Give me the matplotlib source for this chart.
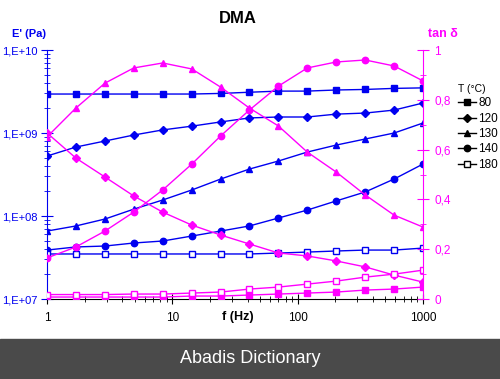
import math
import matplotlib
matplotlib.use('Agg')
import matplotlib.pyplot as plt
from matplotlib.ticker import FixedLocator, FuncFormatter, LogLocator, NullFormatter
from matplotlib.lines import Line2D
from matplotlib.patches import Rectangle

plt.rcParams['font.family'] = ['Liberation Sans', 'DejaVu Sans']

# frequency (Hz)
freq = [1, 1.70, 2.90, 4.92, 8.38, 14.3, 24.3, 41.2, 70.2, 119.4, 203, 346, 588, 1000]

temps = ['80', '120', '130', '140', '180']
markers = ['s', 'D', '^', 'o', 's']
filled = [True, True, True, True, False]

# storage modulus E' (Pa)
e_80 = [2.95e9, 2.95e9, 2.95e9, 2.95e9, 2.95e9, 2.95e9, 3.0e9, 3.1e9, 3.2e9, 3.2e9, 3.3e9, 3.35e9, 3.45e9, 3.5e9]
e_120 = [5.28e8, 6.78e8, 8.01e8, 9.46e8, 1.09e9, 1.21e9, 1.36e9, 1.52e9, 1.56e9, 1.56e9, 1.69e9, 1.74e9, 1.89e9, 2.30e9]
e_130 = [6.59e7, 7.59e7, 9.2e7, 1.21e8, 1.56e8, 2.06e8, 2.79e8, 3.68e8, 4.60e8, 5.90e8, 7.16e8, 8.47e8, 1.0e9, 1.32e9]
e_140 = [3.89e7, 4.24e7, 4.35e7, 4.73e7, 5.0e7, 5.74e7, 6.59e7, 7.59e7, 9.46e7, 1.18e8, 1.52e8, 1.95e8, 2.79e8, 4.23e8]
e_180 = [3.49e7, 3.49e7, 3.49e7, 3.49e7, 3.49e7, 3.49e7, 3.49e7, 3.49e7, 3.58e7, 3.68e7, 3.79e7, 3.89e7, 3.89e7, 4.11e7]

# tan delta
t_80 = [0.008, 0.008, 0.008, 0.008, 0.008, 0.012, 0.012, 0.016, 0.020, 0.024, 0.028, 0.036, 0.040, 0.048]
t_120 = [0.667, 0.566, 0.490, 0.414, 0.349, 0.297, 0.257, 0.221, 0.185, 0.173, 0.153, 0.129, 0.096, 0.068]
t_130 = [0.651, 0.767, 0.867, 0.928, 0.948, 0.924, 0.851, 0.767, 0.695, 0.590, 0.510, 0.418, 0.337, 0.289]
t_140 = [0.165, 0.209, 0.273, 0.349, 0.438, 0.542, 0.655, 0.759, 0.855, 0.928, 0.952, 0.960, 0.936, 0.876]
t_180 = [0.018, 0.018, 0.018, 0.020, 0.020, 0.024, 0.028, 0.040, 0.048, 0.060, 0.072, 0.088, 0.100, 0.116]

e_data = [e_80, e_120, e_130, e_140, e_180]
t_data = [t_80, t_120, t_130, t_140, t_180]

blue = '#0000f0'
magenta = '#ff00ff'


def msize(m):
    return 4 if m == 'D' else 4.6


fig = plt.figure(figsize=(5, 3.79), dpi=100)
ax = fig.add_axes([0.094, 0.211, 0.752, 0.657])
ax2 = ax.twinx()

for e, m, f in zip(e_data, markers, filled):
    ax.plot(freq, e, color=blue, lw=1, marker=m, ms=msize(m),
            mfc=blue if f else 'white', mec=blue, mew=1)
for t, m, f in zip(t_data, markers, filled):
    ax2.plot(freq, t, color=magenta, lw=1, marker=m, ms=msize(m),
             mfc=magenta if f else 'white', mec=magenta, mew=1)

ax.set_xscale('log')
ax.set_yscale('log')
ax.set_xlim(1, 1000)
ax.set_ylim(1e7, 1e10)
ax2.set_ylim(0, 1)

for s in ['top', 'right']:
    ax.spines[s].set_visible(False)
for s in ['top', 'left', 'bottom']:
    ax2.spines[s].set_visible(False)
ax.spines['left'].set_color(blue)
ax.spines['bottom'].set_color('black')
ax2.spines['right'].set_color(magenta)

ax.yaxis.set_major_locator(FixedLocator([1e7, 1e8, 1e9, 1e10]))
ax.yaxis.set_minor_locator(LogLocator(base=10, subs=range(2, 10)))
ax.yaxis.set_minor_formatter(NullFormatter())
ax.yaxis.set_major_formatter(FuncFormatter(lambda v, p: '1,E+%02d' % round(math.log10(v))))
ax.tick_params(axis='y', which='major', direction='inout', length=8, color=blue,
               labelcolor=blue, labelsize=8, pad=3)
ax.tick_params(axis='y', which='minor', direction='inout', length=5, color=blue)

ax.xaxis.set_major_locator(FixedLocator([1, 10, 100, 1000]))
ax.xaxis.set_minor_locator(LogLocator(base=10, subs=range(2, 10)))
ax.xaxis.set_minor_formatter(NullFormatter())
ax.xaxis.set_major_formatter(FuncFormatter(lambda v, p: '%d' % v))
ax.tick_params(axis='x', which='major', direction='inout', length=7, color='black',
               labelsize=8.5, pad=6)
ax.tick_params(axis='x', which='minor', direction='inout', length=5, color='black')

ax2.yaxis.set_major_locator(FixedLocator([0, 0.2, 0.4, 0.6, 0.8, 1.0]))
ax2.yaxis.set_minor_locator(FixedLocator([0.1, 0.3, 0.5, 0.7, 0.9]))
ax2.yaxis.set_major_formatter(FuncFormatter(lambda v, p: ('%g' % round(v, 1)).replace('.', ',')))
ax2.tick_params(axis='y', which='major', direction='inout', length=8, color=magenta,
                labelcolor=magenta, labelsize=8.5, pad=4)
ax2.tick_params(axis='y', which='minor', direction='inout', length=5, color=magenta)

fig.text(0.476, 0.952, 'DMA', ha='center', va='center', fontsize=12, fontweight='bold')
fig.text(0.024, 0.91, "E' (Pa)", ha='left', va='center', fontsize=8, fontweight='bold', color=blue)
fig.text(0.855, 0.91, 'tan δ', ha='left', va='center', fontsize=9, fontweight='bold', color=magenta)
fig.text(0.445, 0.164, 'f (Hz)', ha='left', va='center', fontsize=9, fontweight='bold')

handles = [Line2D([], [], color='black', lw=1, marker=m, ms=msize(m),
                  mfc='black' if f else 'white', mec='black')
           for m, f in zip(markers, filled)]
leg = fig.legend(handles, temps, title='T (°C)', loc='upper left',
                 bbox_to_anchor=(0.916, 0.778), frameon=False, fontsize=8.5,
                 title_fontsize=7.5, handlelength=1.5, handletextpad=0.2,
                 labelspacing=0.28, borderaxespad=0, borderpad=0)
leg._legend_box.align = 'left'

fig.patches.append(Rectangle((0, 0), 1, 40 / 379, transform=fig.transFigure,
                             color='#4a4a4a', zorder=0))
fig.text(0.5, 0.055, 'Abadis Dictionary', ha='center', va='center',
         fontsize=13, color='white')

fig.savefig('out.png', dpi=100)
